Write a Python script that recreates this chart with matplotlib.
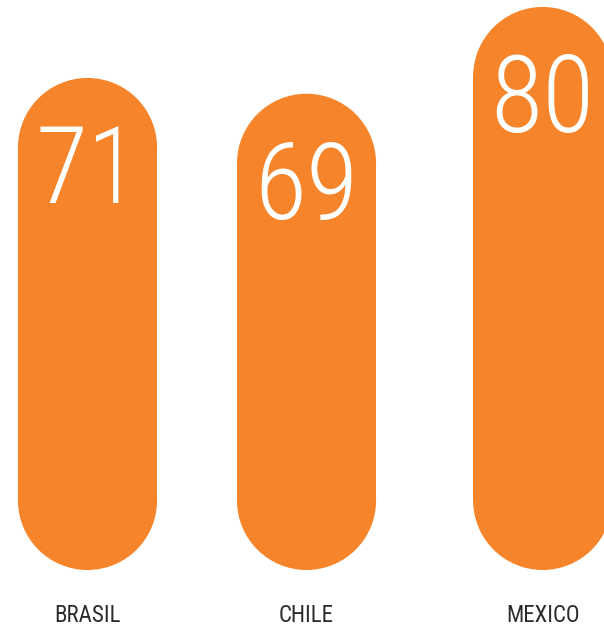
import matplotlib
matplotlib.use("Agg")
import matplotlib.pyplot as plt
from matplotlib.patches import Rectangle, Ellipse

# ---- data ----
categories = ["BRASIL", "CHILE", "MEXICO"]
values = [71, 69, 80]

# ---- layout / style ----
positions = [0.0, 1.0, 2.078]
bar_w = 0.635
base = 8.63
color = "#F6842A"
label_color = "#2b2b2b"

FW, FH, DPI = 604, 626, 100
fig = plt.figure(figsize=(FW / DPI, FH / DPI), dpi=DPI)
ax_bottom_px = 56
ax = fig.add_axes([0, ax_bottom_px / FH, 1, (FH - ax_bottom_px) / FH])
xlim = (-0.3995, 2.358)
ylim = (base, 80.88)
ax.set_xlim(*xlim)
ax.set_ylim(*ylim)
ax.axis("off")

x_per_px = (xlim[1] - xlim[0]) / FW
y_per_px = (ylim[1] - ylim[0]) / (FH - ax_bottom_px)
cap_h = bar_w / x_per_px * y_per_px  # circle diameter in y units

for cat, v, x in zip(categories, values, positions):
    y0 = base + cap_h / 2
    y1 = v - cap_h / 2
    ax.add_patch(Rectangle((x - bar_w / 2, y0), bar_w, y1 - y0,
                           facecolor=color, edgecolor="none", clip_on=False))
    ax.add_patch(Ellipse((x, y0), bar_w, cap_h, facecolor=color,
                         edgecolor="none", clip_on=False))
    ax.add_patch(Ellipse((x, y1), bar_w, cap_h, facecolor=color,
                         edgecolor="none", clip_on=False))
    ax.annotate(str(v), xy=(x, v), xytext=(0, -125), textcoords="offset pixels",
                ha="center", va="baseline", color="white", fontsize=77,
                family=["Roboto Condensed", "DejaVu Sans"], fontweight=300,
                annotation_clip=False)
    ax.annotate(cat, xy=(x, base), xytext=(0, -52), textcoords="offset pixels",
                ha="center", va="baseline", color=label_color, fontsize=16.5,
                family=["Roboto Condensed", "DejaVu Sans"],
                annotation_clip=False)

fig.savefig("out.png", dpi=DPI)
